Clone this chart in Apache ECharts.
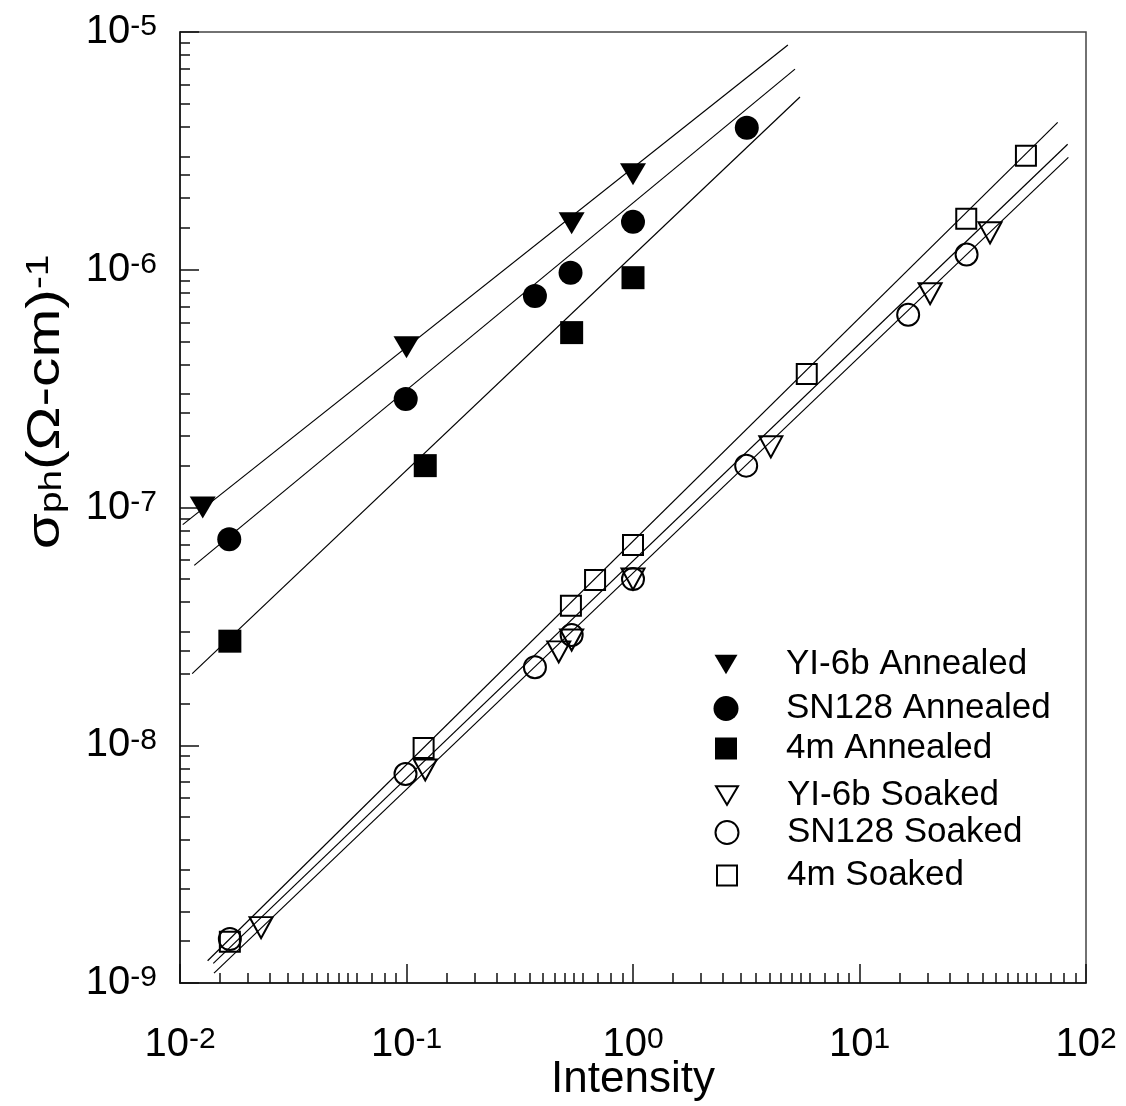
<!DOCTYPE html>
<html>
<head>
<meta charset="utf-8">
<script src="https://cdn.jsdelivr.net/npm/echarts@6/dist/echarts.min.js"></script>
<style>
html,body{margin:0;padding:0;background:#fff;}
#chart{width:1126px;height:1106px;}
</style>
</head>
<body>
<div id="chart"></div>
<script>
// ---------- data ----------
const seriesNames = ['YI-6b Annealed','SN128 Annealed','4m Annealed','YI-6b Soaked','SN128 Soaked','4m Soaked'];

const xYI6bAnn  = [0.0126, 0.1, 0.536, 1.0];
const yYI6bAnn  = [1.0e-7, 4.72e-7, 1.57e-6, 2.52e-6];
const xSN128Ann = [0.0165, 0.0992, 0.369, 0.53, 1.0, 3.18];
const ySN128Ann = [7.35e-8, 2.86e-7, 7.76e-7, 9.72e-7, 1.59e-6, 3.96e-6];
const x4mAnn    = [0.0166, 0.121, 0.536, 1.0];
const y4mAnn    = [2.74e-8, 1.50e-7, 5.44e-7, 9.26e-7];

const xYI6bSoak  = [0.0228, 0.121, 0.47, 0.536, 1.0, 4.06, 20.5, 37.7];
const yYI6bSoak  = [1.71e-9, 7.87e-9, 2.47e-8, 2.77e-8, 5.0e-8, 1.80e-7, 7.93e-7, 1.43e-6];
const xSN128Soak = [0.0166, 0.099, 0.369, 0.536, 1.0, 3.16, 16.4, 29.7];
const ySN128Soak = [1.53e-9, 7.57e-9, 2.13e-8, 2.91e-8, 5.0e-8, 1.50e-7, 6.47e-7, 1.16e-6];
const x4mSoak    = [0.0166, 0.119, 0.532, 0.68, 1.0, 5.85, 29.6, 54.3];
const y4mSoak    = [1.49e-9, 9.73e-9, 3.86e-8, 4.95e-8, 6.95e-8, 3.64e-7, 1.64e-6, 3.02e-6];

// fitted lines: [x, y] end points
const fitYI6bAnn   = [[0.01028, 8.47e-8], [4.83, 8.82e-6]];
const fitSN128Ann  = [[0.01156, 5.71e-8], [5.19, 6.98e-6]];
const fit4mAnn     = [[0.01132, 2.0e-8],  [5.46, 5.33e-6]];
const fit4mSoak    = [[0.01324, 1.24e-9], [75.0, 4.17e-6]];
const fitSN128Soak = [[0.01403, 1.21e-9], [83.0, 3.37e-6]];
const fitYI6bSoak  = [[0.01413, 1.10e-9], [83.6, 2.97e-6]];

// axis ticks
const xMin = 0.01, xMax = 100, yMin = 1e-9, yMax = 1e-5;
const xMinorMantissas = [1.5,2,2.5,3,3.5,4,4.5,5,5.5,6,7,8,9];
const yMinorMantissas = [1.5,2,2.5,3,4,5,6,7,8,9];
const xDecades = [-2,-1,0,1];
const yDecades = [-9,-8,-7,-6];

// ---------- build ----------
const FONT = '"Liberation Sans", Arial, Helvetica, sans-serif';
const zip = (xs, ys) => xs.map((x, i) => [x, ys[i]]);
const xMinorLog = [];
xDecades.forEach(d => xMinorMantissas.forEach(m => xMinorLog.push(Math.log10(m) + d)));
const yMinorLog = [];
yDecades.forEach(d => yMinorMantissas.forEach(m => yMinorLog.push(Math.log10(m) + d)));

const powLabel = v => '{b|10}{s|' + Math.round(Math.log10(v)) + '}';
const labelRich = {
  b: {fontSize: 40, fontFamily: FONT, color: '#000', lineHeight: 40},
  s: {fontSize: 30, fontFamily: FONT, color: '#000', lineHeight: 22, verticalAlign: 'top'}
};

const TRI = 'path://M0,0L20,0L10,17Z';
const filled = {color: '#000', opacity: 1};
const open = {color: 'rgba(0,0,0,0)', borderColor: '#000', borderWidth: 2, opacity: 1};

const markers = [
  {name: seriesNames[0], data: zip(xYI6bAnn, yYI6bAnn), symbol: TRI, size: [26, 22], style: filled, lw: 23, lh: 21},
  {name: seriesNames[1], data: zip(xSN128Ann, ySN128Ann), symbol: 'circle', size: 24, style: filled, lw: 25, lh: 25},
  {name: seriesNames[2], data: zip(x4mAnn, y4mAnn), symbol: 'rect', size: 23, style: filled, lw: 22, lh: 22},
  {name: seriesNames[3], data: zip(xYI6bSoak, yYI6bSoak), symbol: TRI, size: [23, 21], style: open, lw: 22, lh: 20},
  {name: seriesNames[4], data: zip(xSN128Soak, ySN128Soak), symbol: 'circle', size: 22, style: open, lw: 23, lh: 23},
  {name: seriesNames[5], data: zip(x4mSoak, y4mSoak), symbol: 'rect', size: 20, style: open, lw: 20, lh: 20}
];
const fits = [fitYI6bAnn, fitSN128Ann, fit4mAnn, fit4mSoak, fitSN128Soak, fitYI6bSoak];

const series = [];
fits.forEach((f, i) => series.push({
  type: 'line', name: 'fit' + i, data: f, symbol: 'none', silent: true,
  xAxisIndex: 0, yAxisIndex: 0, z: 2,
  lineStyle: {color: '#000', width: 1.2}, animation: false
}));
markers.forEach(m => series.push({
  type: 'scatter', name: m.name, data: m.data, symbol: m.symbol, symbolSize: m.size,
  xAxisIndex: 0, yAxisIndex: 0, z: 3, itemStyle: m.style, animation: false
}));

const legendIconX = 726, legendTextX = 786, legendRowH = 30;
const legendCentersY = [662, 706, 746, 793, 830, 873];
const legends = markers.map((m, i) => ({
  data: [{name: m.name, icon: m.symbol, itemStyle: m.style}],
  orient: 'vertical',
  left: legendIconX - m.lw / 2, top: legendCentersY[i] - legendRowH / 2,
  itemWidth: m.lw, itemHeight: m.lh, padding: 0,
  selectedMode: false,
  formatter: name => '{p|}' + name,
  textStyle: {fontSize: 35, fontFamily: FONT, color: '#000', lineHeight: legendRowH,
              rich: {p: {width: legendTextX - legendIconX - m.lw / 2 - 5}}}
}));

const option = {
  backgroundColor: '#fff',
  animation: false,
  grid: {left: 180, right: 40, top: 32, bottom: 123, containLabel: false,
         outerBoundsMode: 'none',
         show: true, borderColor: '#444', borderWidth: 1.5},
  legend: legends,
  xAxis: [
    {type: 'log', logBase: 10, min: xMin, max: xMax, position: 'bottom',
     axisLine: {show: true, onZero: false, lineStyle: {color: '#111', width: 1.5}},
     axisTick: {show: true, inside: true, length: 19, lineStyle: {color: '#111', width: 1.5}},
     axisLabel: {formatter: powLabel, rich: labelRich, margin: 42},
     splitLine: {show: false},
     name: 'Intensity', nameLocation: 'middle', nameGap: 75, nameMoveOverlap: false,
     nameTextStyle: {fontSize: 44, fontFamily: FONT, color: '#000'}},
    {type: 'value', min: Math.log10(xMin), max: Math.log10(xMax), position: 'bottom',
     axisLine: {show: false, onZero: false},
     axisTick: {show: true, inside: true, length: 10, customValues: xMinorLog,
                lineStyle: {color: '#111', width: 1.5}},
     axisLabel: {show: false}, splitLine: {show: false}}
  ],
  yAxis: [
    {type: 'log', logBase: 10, min: yMin, max: yMax, position: 'left',
     axisLine: {show: true, onZero: false, lineStyle: {color: '#111', width: 1.5}},
     axisTick: {show: true, inside: true, length: 19, lineStyle: {color: '#111', width: 1.5}},
     axisLabel: {formatter: powLabel, rich: labelRich, margin: 23},
     splitLine: {show: false}},
    {type: 'value', min: Math.log10(yMin), max: Math.log10(yMax), position: 'left',
     axisLine: {show: false, onZero: false},
     axisTick: {show: true, inside: true, length: 10, customValues: yMinorLog,
                lineStyle: {color: '#111', width: 1.5}},
     axisLabel: {show: false}, splitLine: {show: false}}
  ],
  graphic: [{
    type: 'text', x: 46, y: 402, rotation: Math.PI / 2, scaleX: 1.25,
    style: {
      text: '{a|σ}{sub|ph}{a|(Ω-cm)}{sup|-1}',
      align: 'center', verticalAlign: 'middle', fill: '#000',
      rich: {
        a: {fontSize: 47, fontFamily: FONT, fill: '#000', lineHeight: 44},
        sub: {fontSize: 31, fontFamily: FONT, fill: '#000', lineHeight: 22, verticalAlign: 'bottom'},
        sup: {fontSize: 31, fontFamily: FONT, fill: '#000', lineHeight: 22, verticalAlign: 'top'}
      }
    }
  }],
  series: series
};

const chart = echarts.init(document.getElementById('chart'), null, {renderer: 'canvas'});
chart.setOption(option);
</script>
</body>
</html>
